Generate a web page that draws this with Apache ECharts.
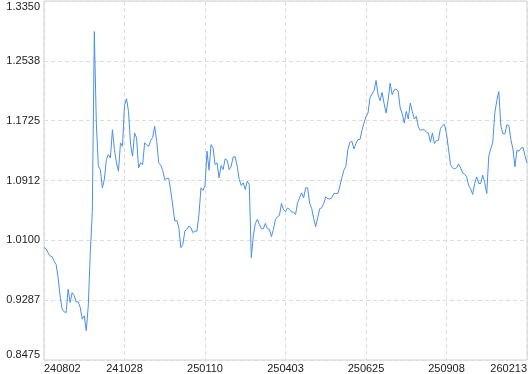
<!DOCTYPE html>
<html>
<head>
<meta charset="utf-8">
<script src="https://cdn.jsdelivr.net/npm/echarts@6/dist/echarts.min.js"></script>
<style>
html,body{margin:0;padding:0;background:#fff;}
#chart{width:530px;height:374px;}
</style>
</head>
<body>
<div id="chart"></div>
<script>
const xTickLabels = ['240802','241028','250110','250403','250625','250908','260213'];
const yTickLabels = ['0.8475','0.9287','1.0100','1.0912','1.1725','1.2538','1.3350'];
const values = [
1.0001,0.9987,0.9933,0.9888,0.9879,0.9820,0.9775,0.9594,0.9346,0.9166,
0.9129,0.9120,0.9436,0.9256,0.9391,0.9346,0.9265,0.9265,0.9188,0.9030,
0.9075,0.8872,0.9211,0.9933,1.0475,1.2935,1.1693,1.1107,1.1061,1.0813,
1.0926,1.1197,1.1265,1.1219,1.1603,1.1332,1.1152,1.1039,1.1423,1.1377,
1.1930,1.2023,1.1851,1.1400,1.1242,1.1558,1.1490,1.1084,1.1152,1.1129,
1.1423,1.1400,1.1377,1.1454,1.1499,1.1648,1.1445,1.1152,1.1120,1.1048,
1.0926,1.0940,1.0940,1.0768,1.0565,1.0362,1.0371,1.0272,1.0001,1.0046,
1.0226,1.0249,1.0294,1.0272,1.0204,1.0226,1.0226,1.0452,1.0813,1.0777,
1.0845,1.1310,1.1052,1.1400,1.1355,1.1129,1.1152,1.0949,1.1116,1.1061,
1.1206,1.1188,1.1061,1.1107,1.1233,1.1233,1.1107,1.0926,1.0845,1.0881,
1.0791,1.0903,1.0858,0.9866,1.0159,1.0330,1.0384,1.0317,1.0258,1.0258,
1.0330,1.0258,1.0249,1.0150,1.0249,1.0384,1.0421,1.0439,1.0601,1.0520,
1.0490,1.0540,1.0520,1.0484,1.0484,1.0452,1.0610,1.0678,1.0745,1.0678,
1.0813,1.0813,1.0601,1.0533,1.0393,1.0285,1.0407,1.0529,1.0542,1.0601,
1.0691,1.0664,1.0664,1.0678,1.0736,1.0736,1.0736,1.0836,1.0949,1.1052,
1.1107,1.1332,1.1432,1.1445,1.1341,1.1414,1.1468,1.1468,1.1594,1.1693,
1.1780,1.1829,1.2041,1.2086,1.2136,1.2271,1.2077,1.1996,1.2109,1.1955,
1.1829,1.2009,1.2235,1.2077,1.2145,1.2154,1.2122,1.1897,1.1820,1.1693,
1.1851,1.1748,1.1964,1.1851,1.1748,1.1784,1.1639,1.1594,1.1603,1.1603,
1.1567,1.1558,1.1432,1.1558,1.1414,1.1454,1.1459,1.1621,1.1657,1.1675,
1.1545,1.1341,1.1129,1.1084,1.1071,1.1084,1.1138,1.1084,1.1016,1.0998,
1.0962,1.0845,1.0800,1.0723,1.0872,1.0962,1.0872,1.0872,1.0985,1.0881,
1.0736,1.1242,1.1341,1.1432,1.1829,1.2000,1.2120,1.1657,1.1549,1.1545,
1.1671,1.1657,1.1468,1.1341,1.1098,1.1323,1.1310,1.1350,1.1364,1.1251,
1.1152
];

const yMin = 0.8475, yMax = 1.335, yStep = 0.08125;
const xStep = 40;

const chart = echarts.init(document.getElementById('chart'), null, {renderer: 'canvas'});
chart.setOption({
  animation: false,
  grid: {
    left: 44, right: 2, top: 1, bottom: 13,
    show: true, borderColor: '#d0d0d0', borderWidth: 1, backgroundColor: 'transparent'
  },
  xAxis: {
    type: 'value',
    min: 0,
    max: values.length - 1,
    interval: xStep,
    axisLine: {show: false},
    axisTick: {show: false},
    splitLine: {show: true, lineStyle: {color: '#dcdcdc', type: [4, 3], width: 1}},
    axisLabel: {
      color: '#222',
      fontFamily: 'Liberation Sans',
      fontSize: 11,
      margin: 3,
      alignMinLabel: 'left',
      alignMaxLabel: 'right',
      formatter: v => xTickLabels[Math.round(v / xStep)] || ''
    }
  },
  yAxis: {
    type: 'value',
    min: yMin,
    max: yMax,
    interval: yStep,
    axisLine: {show: false},
    axisTick: {show: false},
    splitLine: {show: true, lineStyle: {color: '#dcdcdc', type: [4, 3], width: 1}},
    axisLabel: {
      color: '#222',
      fontFamily: 'Liberation Sans',
      fontSize: 11,
      margin: 4,
      verticalAlignMinLabel: 'bottom',
      verticalAlignMaxLabel: 'top',
      formatter: v => yTickLabels[Math.round((v - yMin) / yStep)] || ''
    }
  },
  series: [{
    type: 'line',
    data: values.map((v, i) => [i, v]),
    showSymbol: false,
    symbol: 'none',
    lineStyle: {color: '#4a8fe7', width: 1},
    itemStyle: {color: '#4a8fe7'}
  }]
});
</script>
</body>
</html>
